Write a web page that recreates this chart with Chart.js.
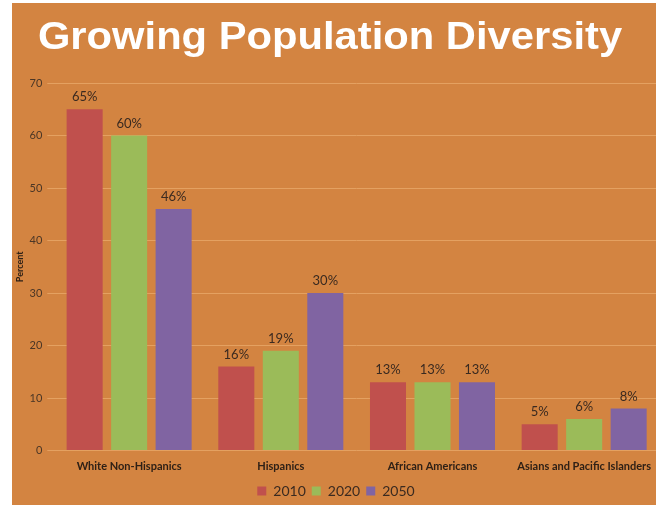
<!DOCTYPE html>
<html>
<head>
<meta charset="utf-8">
<script src="https://cdn.jsdelivr.net/npm/chart.js@4"></script>
<style>
  html, body { margin: 0; padding: 0; background: #ffffff; overflow: hidden; }
  #fundo {
    position: absolute; left: 12px; top: 3px;
    width: 648px; height: 505px;
    background: #D38441;
  }
</style>
</head>
<body>
<div id="fundo"><canvas id="grafico" width="648" height="505"></canvas></div>
<script>
// dados
const categorias = ["White Non-Hispanics", "Hispanics", "African Americans", "Asians and Pacific Islanders"];
const anos = ["2010", "2020", "2050"];
const valores2010 = [65, 16, 13, 5];
const valores2020 = [60, 19, 13, 6];
const valores2050 = [46, 30, 13, 8];
const ticksY = [0, 10, 20, 30, 40, 50, 60, 70];
const titulo = "Growing Population Diversity";

const cores = {
  vermelho: "#C0504D",
  verde: "#9BBB59",
  roxo: "#8064A2",
  grade: "#E4A161",
  texto: "#4a3626",
};

Chart.defaults.font.family = "Lato";

// titulo largo (fonte do slide e mais esticada que a Liberation Sans)
const tituloSlide = {
  id: "tituloSlide",
  afterDraw(chart) {
    const ctx = chart.ctx;
    ctx.save();
    ctx.font = "bold 38px 'Liberation Sans'";
    ctx.fillStyle = "#ffffff";
    ctx.textAlign = "center";
    ctx.textBaseline = "alphabetic";
    ctx.translate(318, 46);
    ctx.scale(1.098, 1);
    ctx.fillText(titulo, 0, 0);
    ctx.restore();
  },
};

// rotulos "65%" em cima das barras
const rotulosBarras = {
  id: "rotulosBarras",
  afterDatasetsDraw(chart) {
    const ctx = chart.ctx;
    ctx.save();
    ctx.font = "13px Lato";
    ctx.fillStyle = "#3a2a20";
    ctx.textAlign = "center";
    ctx.textBaseline = "alphabetic";
    chart.data.datasets.forEach((ds, i) => {
      chart.getDatasetMeta(i).data.forEach((barra, j) => {
        ctx.fillText(ds.data[j] + "%", barra.x, barra.y - 8);
      });
    });
    ctx.restore();
  },
};

new Chart(document.getElementById("grafico"), {
  type: "bar",
  data: {
    labels: categorias,
    datasets: [
      { label: anos[0], data: valores2010, backgroundColor: cores.vermelho },
      { label: anos[1], data: valores2020, backgroundColor: cores.verde },
      { label: anos[2], data: valores2050, backgroundColor: cores.roxo },
    ],
  },
  options: {
    responsive: false,
    animation: false,
    layout: { padding: { left: 0, right: 0, top: 80, bottom: 0 } },
    datasets: {
      bar: { categoryPercentage: 0.88, barPercentage: 0.81 },
    },
    scales: {
      x: {
        grid: { display: false, drawTicks: false },
        border: { display: false },
        ticks: {
          color: "#2e2016",
          font: { size: 11, weight: "bold" },
          padding: 9,
          maxRotation: 0,
          autoSkip: false,
        },
        afterFit(scale) { scale.height = 27.5; },
      },
      y: {
        min: 0,
        max: 70,
        afterBuildTicks(scale) { scale.ticks = ticksY.map((v) => ({ value: v })); },
        grid: { color: cores.grade, tickLength: 6, tickColor: cores.grade },
        border: { display: false },
        ticks: { color: cores.texto, font: { size: 11 }, padding: 5 },
        title: {
          display: true,
          text: "Percent",
          color: "#2e2016",
          font: { size: 9, weight: "bold" },
          padding: { top: 3, bottom: 0 },
        },
        afterFit(scale) { scale.width = 41.3; },
      },
    },
    plugins: {
      title: { display: false },
      legend: {
        position: "bottom",
        labels: {
          color: "#3a2a20",
          font: { size: 14 },
          boxWidth: 9,
          boxHeight: 9,
          padding: 6,
        },
      },
      tooltip: { enabled: false },
    },
  },
  plugins: [rotulosBarras, tituloSlide],
});
</script>
</body>
</html>
